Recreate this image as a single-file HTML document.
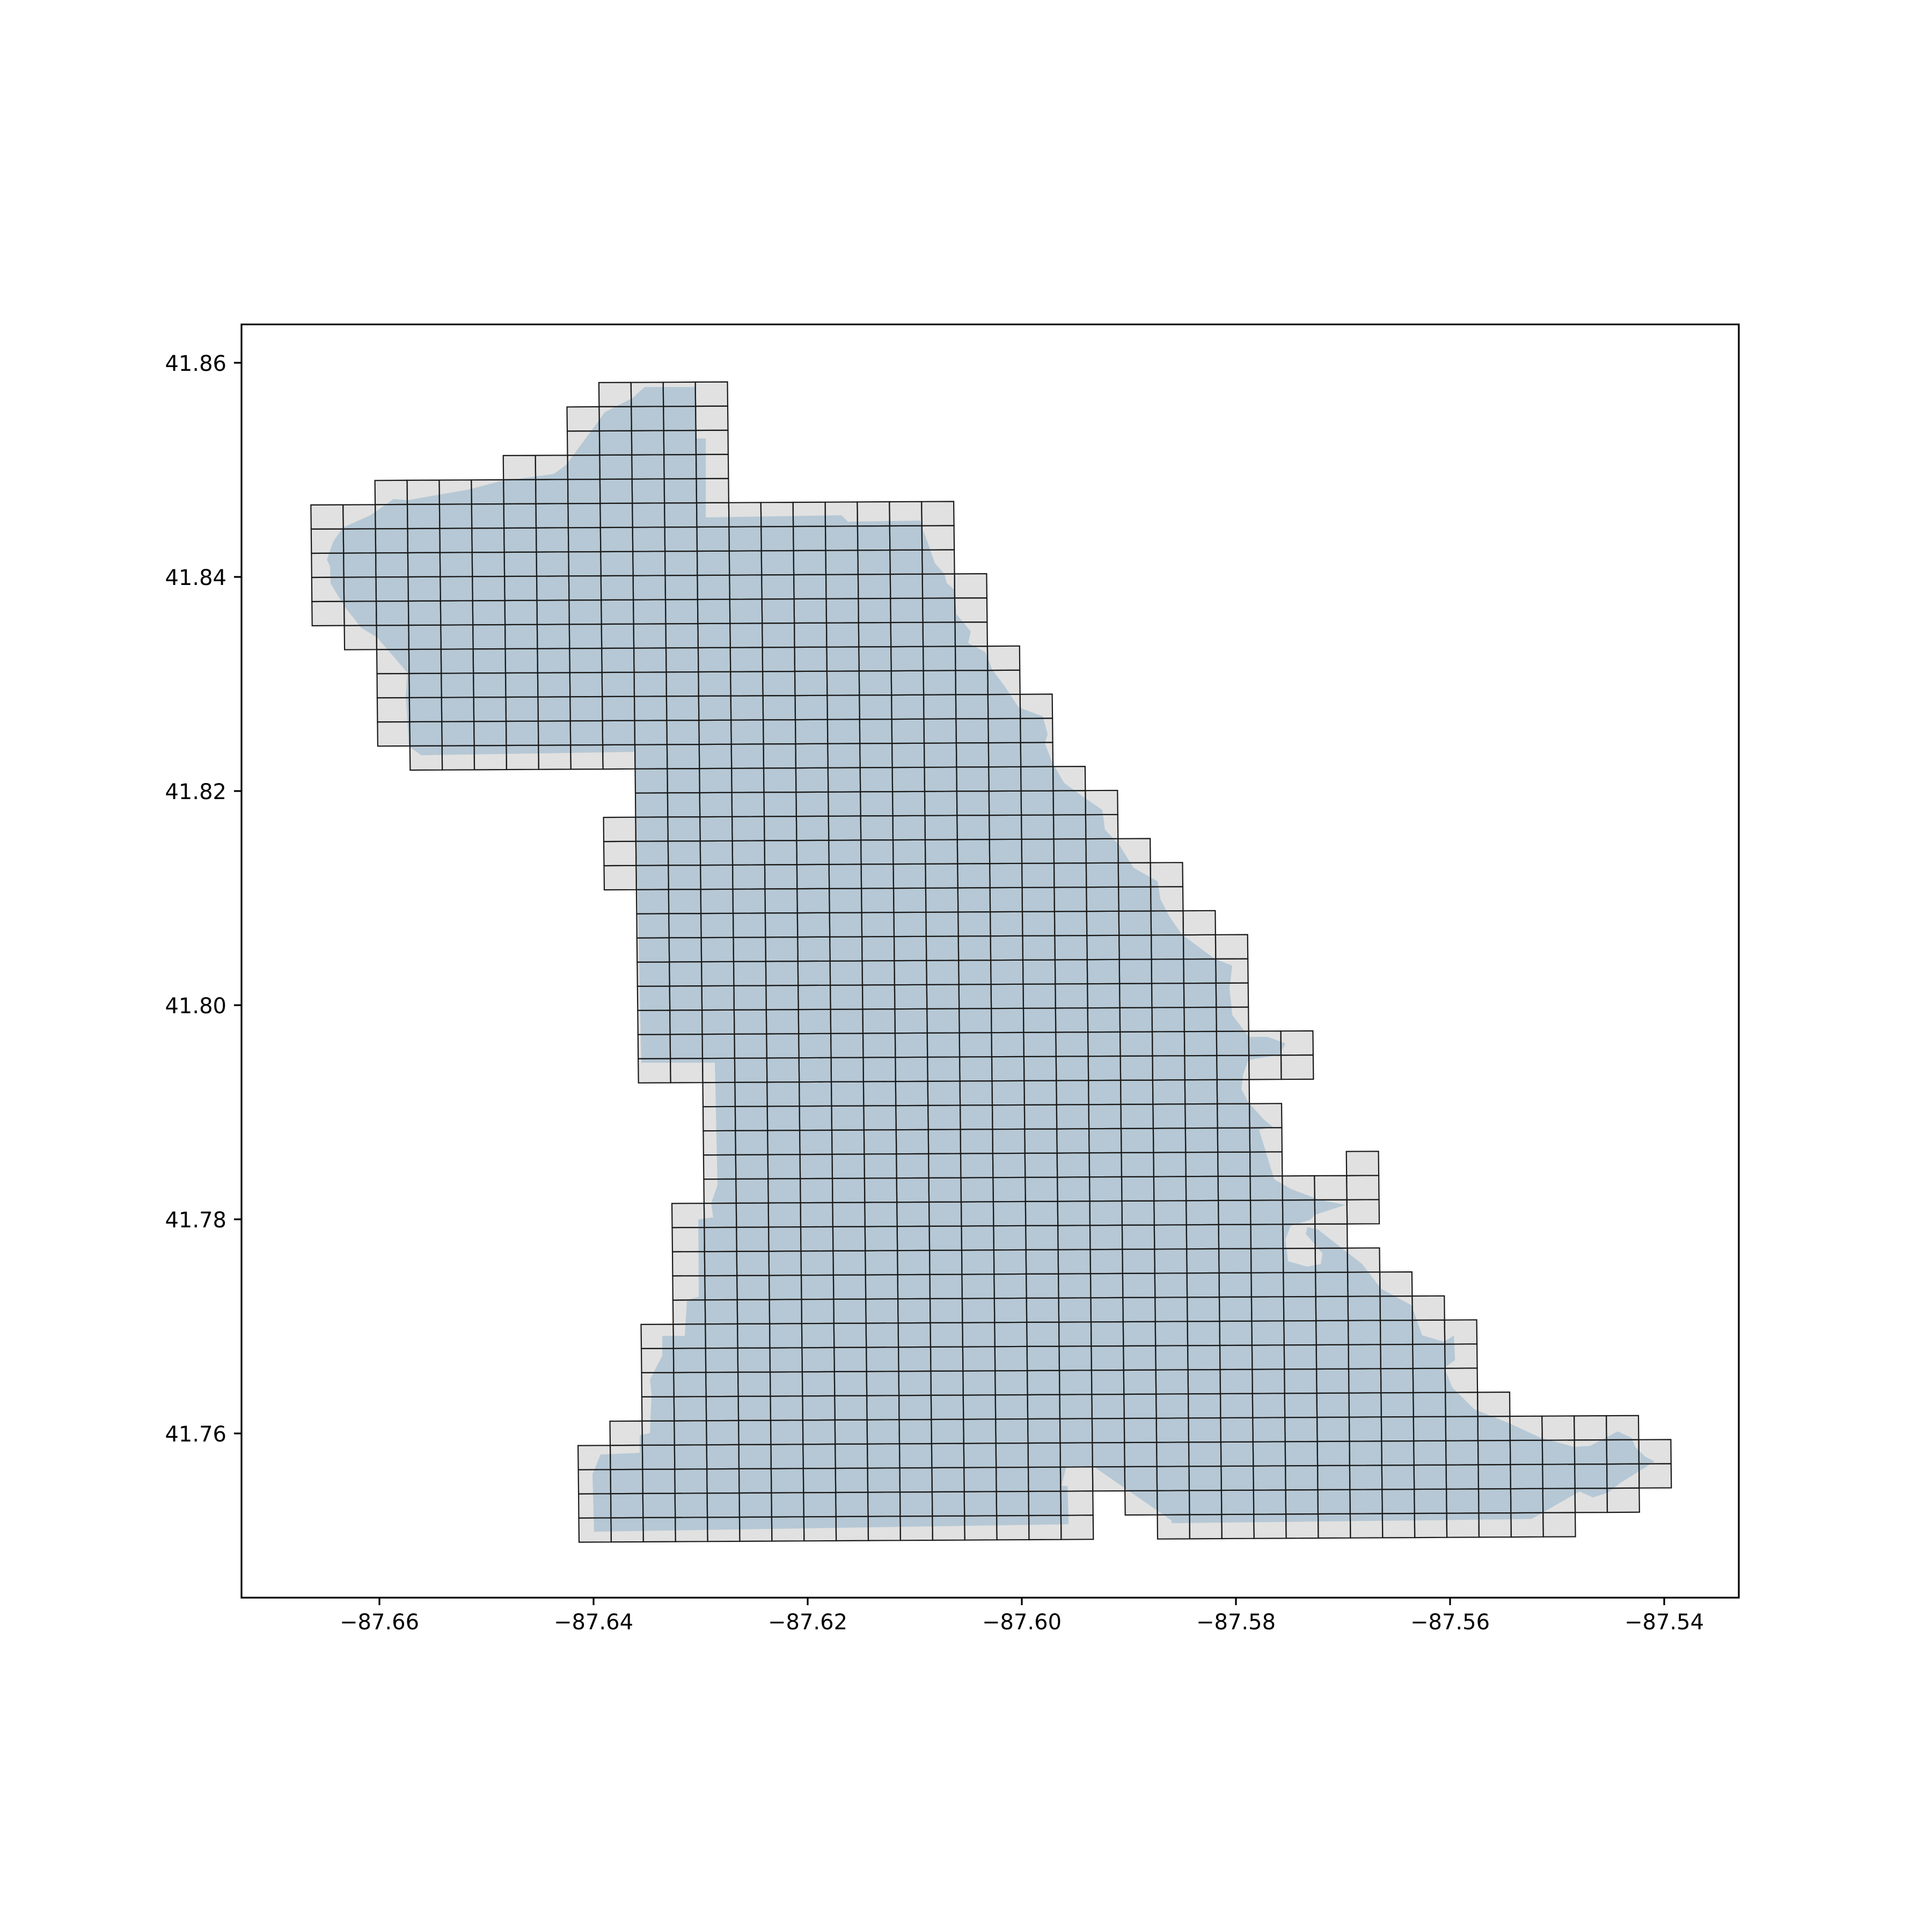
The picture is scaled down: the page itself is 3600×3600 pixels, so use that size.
<!DOCTYPE html>
<html><head><meta charset="utf-8"><style>
html,body{margin:0;padding:0;background:#fff}
svg{display:block}
text{font-family:"DejaVu Sans","Liberation Sans",sans-serif;font-size:40px;fill:#000}
</style></head><body>
<svg id="chart" width="3600" height="3600" viewBox="0 0 3600 3600" xmlns="http://www.w3.org/2000/svg">
<rect x="0" y="0" width="3600" height="3600" fill="#fff"/>
<g id="cells-fill"></g>
<g id="area"></g>
<g id="cells-edge"></g>
<rect x="450" y="604.5" width="2790" height="2372.5" fill="none" stroke="#000" stroke-width="3.2"/>
<g id="xaxis"></g>
<g id="yaxis"></g>
</svg>
<script>
const xTicks = [-87.66, -87.64, -87.62, -87.60, -87.58, -87.56, -87.54];
const yTicks = [41.76, 41.78, 41.80, 41.82, 41.84, 41.86];
const gridOrigin = [-87.66652, 41.85800];
const cellSize = [0.003002, 0.002256];
const cellSkew = [0.000024, 0.0000165];
const gridRows = [
 [[9,12]],[[8,12]],[[8,12]],[[6,12]],[[2,12]],
 [[0,19]],[[0,19]],[[0,19]],[[0,20]],[[0,20]],
 [[1,20]],[[2,21]],[[2,21]],[[2,22]],[[2,22]],
 [[3,22]],[[10,23]],[[10,24]],[[9,24]],[[9,25]],
 [[9,26]],[[10,26]],[[10,27]],[[10,28]],[[10,28]],
 [[10,28]],[[10,28]],[[10,30]],[[10,30]],[[12,28]],
 [[12,29]],[[12,29]],[[12,29],[32,32]],[[12,32]],[[11,32]],
 [[11,31]],[[11,32]],[[11,33]],[[11,34]],[[10,35]],
 [[10,35]],[[10,35]],[[10,36]],[[9,40]],[[8,41]],
 [[8,41]],[[8,23],[25,40]],[[8,23],[26,38]]
];
const boundaryLon = [-87.63519,-87.63052,-87.63042,-87.62952,-87.62952,-87.61684,-87.61624,-87.60947,-87.60932,-87.60877,-87.60812,-87.60722,-87.60702,-87.60632,-87.60612,-87.60476,-87.60501,-87.60341,-87.60276,-87.60165,-87.60030,-87.59804,-87.59759,-87.59784,-87.59714,-87.59604,-87.59403,-87.59248,-87.59223,-87.59087,-87.58957,-87.58731,-87.58706,-87.58621,-87.58506,-87.58195,-87.58034,-87.58060,-87.58034,-87.57879,-87.57704,-87.57538,-87.57588,-87.57884,-87.57934,-87.57949,-87.57884,-87.57744,-87.57653,-87.57784,-87.57744,-87.57643,-87.57488,-87.57232,-87.56977,-87.57257,-87.57308,-87.57488,-87.57538,-87.57513,-87.57333,-87.57207,-87.57192,-87.57283,-87.57348,-87.57333,-87.57232,-87.57002,-87.56821,-87.56646,-87.56360,-87.56260,-87.56054,-87.55964,-87.55954,-87.56054,-87.55979,-87.55773,-87.55468,-87.55152,-87.54841,-87.54691,-87.54435,-87.54305,-87.54270,-87.54179,-87.54089,-87.54410,-87.54525,-87.54666,-87.54791,-87.55237,-87.55508,-87.58601,-87.58601,-87.59333,-87.59583,-87.59629,-87.59573,-87.59563,-87.63995,-87.64010,-87.63935,-87.63569,-87.63569,-87.63473,-87.63458,-87.63473,-87.63358,-87.63358,-87.63148,-87.63128,-87.63017,-87.63022,-87.62882,-87.62902,-87.62842,-87.62867,-87.63554,-87.63589,-87.63609,-87.65609,-87.65724,-87.65754,-87.65739,-87.66025,-87.66170,-87.66326,-87.66456,-87.66461,-87.66491,-87.66431,-87.66341,-87.66085,-87.65870,-87.65739,-87.65163,-87.64877,-87.64586,-87.64371,-87.64255,-87.63955,-87.63895,-87.63639,-87.63529];
const boundaryLat = [41.85774,41.85774,41.85293,41.85293,41.84556,41.84576,41.84516,41.84526,41.84461,41.84316,41.84130,41.84025,41.83945,41.83880,41.83654,41.83489,41.83383,41.83298,41.83133,41.82987,41.82782,41.82697,41.82531,41.82446,41.82261,41.82075,41.81930,41.81824,41.81639,41.81493,41.81283,41.81157,41.80992,41.80827,41.80661,41.80431,41.80370,41.80160,41.79909,41.79704,41.79704,41.79644,41.79538,41.79488,41.79348,41.79217,41.79092,41.78937,41.78861,41.78836,41.78706,41.78375,41.78285,41.78185,41.78135,41.78044,41.77994,41.77939,41.77814,41.77608,41.77558,41.77583,41.77683,41.77789,41.77864,41.77929,41.77904,41.77724,41.77583,41.77353,41.77197,41.76916,41.76856,41.76916,41.76686,41.76611,41.76430,41.76225,41.76104,41.75959,41.75874,41.75884,41.76019,41.75959,41.75874,41.75784,41.75738,41.75538,41.75447,41.75402,41.75458,41.75202,41.75197,41.75162,41.75187,41.75693,41.75693,41.75513,41.75508,41.75152,41.75082,41.75618,41.75803,41.75819,41.75984,41.76004,41.76370,41.76505,41.76726,41.76911,41.76911,41.77247,41.77277,41.77999,41.78019,41.78150,41.78320,41.79463,41.79463,41.81117,41.82366,41.82335,41.82416,41.82892,41.83107,41.83438,41.83524,41.83724,41.83940,41.84100,41.84160,41.84331,41.84461,41.84576,41.84727,41.84717,41.84817,41.84892,41.84932,41.84962,41.85048,41.85454,41.85539,41.85669,41.85769];

const NS = 'http://www.w3.org/2000/svg';
const PX_PER_DEG = 19950;
function xScale(lon){ return 707 + (lon + 87.66) * PX_PER_DEG; }
function yScale(lat){ return 676 - (lat - 41.86) * PX_PER_DEG; }
function corner(c, r){
  const lon = gridOrigin[0] + c * cellSize[0] + r * cellSkew[0];
  const lat = gridOrigin[1] - r * cellSize[1] + c * cellSkew[1];
  return [xScale(lon), yScale(lat)];
}
function mk(tag, attrs, parent){
  const e = document.createElementNS(NS, tag);
  for (const k in attrs) e.setAttribute(k, attrs[k]);
  parent.appendChild(e);
  return e;
}
const fillG = document.getElementById('cells-fill');
const edgeG = document.getElementById('cells-edge');
gridRows.forEach((segs, r) => {
  segs.forEach(seg => {
    for (let c = seg[0]; c <= seg[1]; c++) {
      const p = [corner(c, r), corner(c + 1, r), corner(c + 1, r + 1), corner(c, r + 1)];
      const pts = p.map(q => q[0].toFixed(1) + ',' + q[1].toFixed(1)).join(' ');
      const f = mk('polygon', {points: pts, fill: '#e1e1e1', stroke: 'none'}, fillG);
      
      
      const e = mk('polygon', {points: pts, fill: 'none', stroke: '#1a1a1a', 'stroke-width': '2.2'}, edgeG);
      
      
    }
  });
});
const areaG = document.getElementById('area');
const bpts = boundaryLon.map((lon, i) => xScale(lon).toFixed(1) + ',' + yScale(boundaryLat[i]).toFixed(1)).join(' ');
const area = mk('polygon', {points: bpts, fill: '#b6c8d5', stroke: 'none'}, areaG);



const xa = document.getElementById('xaxis');
xTicks.forEach(v => {
  const x = xScale(v);
  const t = mk('line', {x1: x, y1: 2977, x2: x, y2: 2991, stroke: '#000', 'stroke-width': '3.2'}, xa);
  
  
  const l = mk('text', {x: x, y: 3036, 'text-anchor': 'middle'}, xa);
  l.textContent = '\u2212' + Math.abs(v).toFixed(2);
  
  
});
const ya = document.getElementById('yaxis');
yTicks.forEach(v => {
  const y = yScale(v);
  const t = mk('line', {x1: 436, y1: y, x2: 450, y2: y, stroke: '#000', 'stroke-width': '3.2'}, ya);
  
  
  const l = mk('text', {x: 422, y: y + 15, 'text-anchor': 'end'}, ya);
  l.textContent = v.toFixed(2);
  
  
});
</script>
</body></html>
